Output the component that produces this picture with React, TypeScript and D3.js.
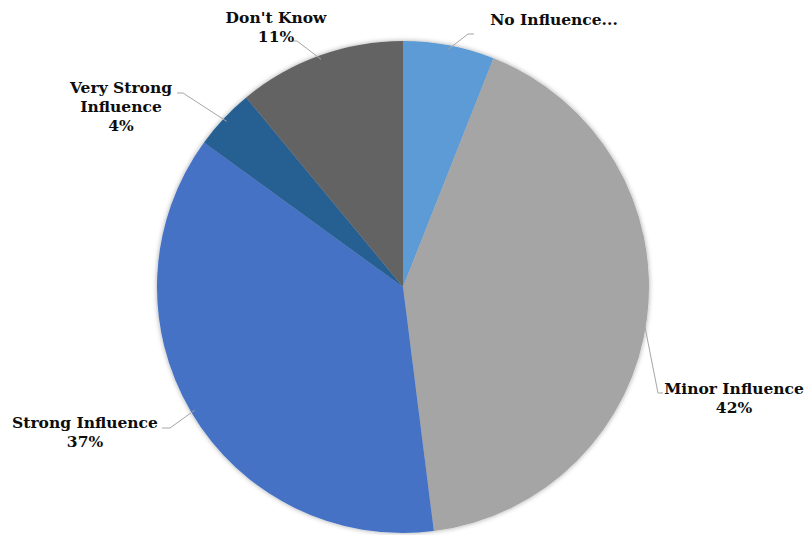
import React from "react";
import * as d3 from "d3";

const categories = ["No Influence", "Minor Influence", "Strong Influence", "Very Strong Influence", "Don't Know"];
const values = [6, 42, 37, 4, 11];
const colors = ["#5B9BD5", "#A5A5A5", "#4472C4", "#255E91", "#636363"];
const labelLines = [
  ["No Influence..."],
  ["Minor Influence", "42%"],
  ["Strong Influence", "37%"],
  ["Very Strong", "Influence", "4%"],
  ["Don't Know", "11%"],
];

const W = 808;
const H = 535;
const cx = 403;
const cy = 287;
const R = 246;

// label anchor positions (center x, first baseline y) and leader polylines
const labelPos = [
  { x: 554, y: 25 },
  { x: 734, y: 394 },
  { x: 85, y: 428 },
  { x: 121, y: 93 },
  { x: 276, y: 23 },
];
const leaderElbows: [number, number][][] = [
  [[468, 34], [474, 34]],
  [[658, 393], [663, 393]],
  [[170, 428], [162, 428]],
  [[183, 93], [177, 93]],
  [[297, 41], [292, 41]],
];

export default function App() {
  const pie = d3.pie<number>().sort(null).value((d) => d);
  const arcs = pie(values);
  const arc = d3.arc<d3.PieArcDatum<number>>().innerRadius(0).outerRadius(R);
  const lineGen = d3.line();

  return (
    <svg
      width={W}
      height={H}
      style={{ position: "absolute", left: 0, top: 0, background: "#fff" }}
      fontFamily="'DejaVu Serif', serif"
    >
      <defs>
        <filter id="shadow" x="-10%" y="-10%" width="120%" height="120%">
          <feDropShadow dx="0" dy="0" stdDeviation="2.5" floodColor="#000" floodOpacity="0.35" />
        </filter>
      </defs>
      <g transform={`translate(${cx},${cy})`} filter="url(#shadow)">
        {arcs.map((a, i) => (
          <path key={i} d={arc(a) || ""} fill={colors[i]} />
        ))}
      </g>
      {arcs.map((a, i) => {
        const mid = (a.startAngle + a.endAngle) / 2;
        const edge: [number, number] = [cx + Math.sin(mid) * (R - 4), cy - Math.cos(mid) * (R - 4)];
        const pts: [number, number][] = [edge, ...leaderElbows[i]];
        return (
          <path key={"l" + i} d={lineGen(pts) || ""} fill="none" stroke="#A6A6A6" strokeWidth={1} />
        );
      })}
      {labelLines.map((lines, i) => (
        <text
          key={"t" + i}
          x={labelPos[i].x}
          y={labelPos[i].y}
          textAnchor="middle"
          fontWeight="bold"
          fontSize={15.5}
          fill="#0d0d0d"
        >
          {lines.map((ln, j) => (
            <tspan key={j} x={labelPos[i].x} dy={j === 0 ? 0 : 19}>
              {ln}
            </tspan>
          ))}
        </text>
      ))}
    </svg>
  );
}
